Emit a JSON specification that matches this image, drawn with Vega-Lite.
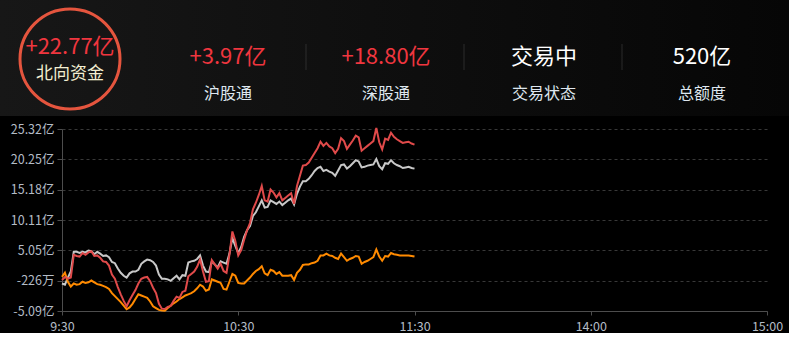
{
  "$schema": "https://vega.github.io/schema/vega-lite/v6.json",
  "background": "#000000",
  "padding": 0,
  "spacing": 5,
  "resolve": {"scale": {"color": "independent", "x": "independent", "y": "independent"}},
  "config": {"font": "Noto Sans CJK SC", "view": {"stroke": null}},
  "datasets": {
    "header": [
      {"item": "北向资金", "row": "value", "text": "+22.77亿", "kind": "inflow"},
      {"item": "北向资金", "row": "label", "text": "北向资金", "kind": "title"},
      {"item": "沪股通", "row": "value", "text": "+3.97亿", "kind": "inflow"},
      {"item": "沪股通", "row": "label", "text": "沪股通", "kind": "label"},
      {"item": "深股通", "row": "value", "text": "+18.80亿", "kind": "inflow"},
      {"item": "深股通", "row": "label", "text": "深股通", "kind": "label"},
      {"item": "交易状态", "row": "value", "text": "交易中", "kind": "status"},
      {"item": "交易状态", "row": "label", "text": "交易状态", "kind": "label"},
      {"item": "总额度", "row": "value", "text": "520亿", "kind": "status"},
      {"item": "总额度", "row": "label", "text": "总额度", "kind": "label"}
    ],
    "flow": [
      {"m": 0, "沪股通": 0.6, "深股通": -0.5, "北向资金": 0.1},
      {"m": 1, "沪股通": 1.3, "深股通": -0.7, "北向资金": 0.6},
      {"m": 2, "沪股通": -0.2, "深股通": 0.5, "北向资金": 0.3},
      {"m": 3, "沪股通": -1.0, "深股通": 1.5, "北向资金": 0.5},
      {"m": 4, "沪股通": -0.5, "深股通": 4.8, "北向资金": 4.3},
      {"m": 5, "沪股通": -0.7, "深股通": 4.8, "北向资金": 4.1},
      {"m": 6, "沪股通": -0.6, "深股通": 4.6, "北向资金": 4.0},
      {"m": 7, "沪股通": -0.2, "深股通": 4.8, "北向资金": 4.6},
      {"m": 8, "沪股通": -0.4, "深股通": 4.7, "北向资金": 4.3},
      {"m": 9, "沪股通": -0.3, "深股通": 5.0, "北向资金": 4.7},
      {"m": 10, "沪股通": 0.0, "深股通": 4.9, "北向资金": 4.9},
      {"m": 11, "沪股通": -0.3, "深股通": 4.4, "北向资金": 4.1},
      {"m": 12, "沪股通": -0.6, "深股通": 4.8, "北向资金": 4.2},
      {"m": 13, "沪股通": -0.7, "深股通": 4.5, "北向资金": 3.8},
      {"m": 14, "沪股通": -0.9, "深股通": 4.1, "北向资金": 3.2},
      {"m": 15, "沪股通": -1.1, "深股通": 4.2, "北向资金": 3.1},
      {"m": 16, "沪股通": -1.4, "深股通": 3.9, "北向资金": 2.5},
      {"m": 17, "沪股通": -2.1, "深股通": 3.1, "北向资金": 1.0},
      {"m": 18, "沪股通": -2.6, "深股通": 2.9, "北向资金": 0.3},
      {"m": 19, "沪股通": -3.1, "深股通": 2.0, "北向资金": -1.1},
      {"m": 20, "沪股通": -3.6, "深股通": 1.3, "北向资金": -2.3},
      {"m": 21, "沪股通": -4.2, "深股通": 0.8, "北向资金": -3.4},
      {"m": 22, "沪股通": -4.8, "深股通": 0.5, "北向资金": -4.3},
      {"m": 23, "沪股通": -4.5, "深股通": 1.2, "北向资金": -3.3},
      {"m": 24, "沪股通": -3.9, "深股通": 1.5, "北向资金": -2.4},
      {"m": 25, "沪股通": -3.1, "深股通": 1.5, "北向资金": -1.6},
      {"m": 26, "沪股通": -2.3, "深股通": 1.8, "北向资金": -0.5},
      {"m": 27, "沪股通": -2.5, "深股通": 2.8, "北向资金": 0.3},
      {"m": 28, "沪股通": -2.7, "深股通": 3.2, "北向资金": 0.5},
      {"m": 29, "沪股通": -2.9, "深股通": 3.5, "北向资金": 0.6},
      {"m": 30, "沪股通": -3.5, "深股通": 3.4, "北向资金": -0.1},
      {"m": 31, "沪股通": -4.3, "深股通": 3.1, "北向资金": -1.2},
      {"m": 32, "沪股通": -4.6, "深股通": 2.5, "北向资金": -2.1},
      {"m": 33, "沪股通": -4.9, "深股通": 1.0, "北向资金": -3.9},
      {"m": 34, "沪股通": -5.0, "深股通": 0.3, "北向资金": -4.7},
      {"m": 35, "沪股通": -5.05, "深股通": 0.3, "北向资金": -4.75},
      {"m": 36, "沪股通": -4.6, "深股通": 0.2, "北向资金": -4.4},
      {"m": 37, "沪股通": -4.2, "深股通": -0.05, "北向资金": -4.25},
      {"m": 38, "沪股通": -3.8, "深股通": 0.4, "北向资金": -3.4},
      {"m": 39, "沪股通": -3.5, "深股通": 0.8, "北向资金": -2.7},
      {"m": 40, "沪股通": -3.1, "深股通": 0.2, "北向资金": -2.9},
      {"m": 41, "沪股通": -2.8, "深股通": 0.9, "北向资金": -1.9},
      {"m": 42, "沪股通": -2.5, "深股通": 0.8, "北向资金": -1.7},
      {"m": 43, "沪股通": -2.3, "深股通": 3.0, "北向资金": 0.7},
      {"m": 44, "沪股通": -2.1, "深股通": 3.2, "北向资金": 1.1},
      {"m": 45, "沪股通": -1.8, "深股通": 3.3, "北向资金": 1.5},
      {"m": 46, "沪股通": -1.3, "深股通": 3.6, "北向资金": 2.3},
      {"m": 47, "沪股通": -0.7, "深股通": 4.2, "北向资金": 3.5},
      {"m": 48, "沪股通": -1.0, "深股通": 2.5, "北向资金": 1.5},
      {"m": 49, "沪股通": -1.7, "深股通": 1.5, "北向资金": -0.2},
      {"m": 50, "沪股通": -1.5, "深股通": 1.4, "北向资金": -0.1},
      {"m": 51, "沪股通": 0.2, "深股通": 3.2, "北向资金": 3.4},
      {"m": 52, "沪股通": 0.0, "深股通": 2.7, "北向资金": 2.7},
      {"m": 53, "沪股通": -0.2, "深股通": 2.2, "北向资金": 2.0},
      {"m": 54, "沪股通": -0.4, "深股通": 3.2, "北向资金": 2.8},
      {"m": 55, "沪股通": -1.4, "深股通": 3.0, "北向资金": 1.6},
      {"m": 56, "沪股通": -1.5, "深股通": 2.8, "北向资金": 1.3},
      {"m": 57, "沪股通": -0.2, "深股通": 4.5, "北向资金": 4.3},
      {"m": 58, "沪股通": 1.1, "深股通": 7.1, "北向资金": 8.2},
      {"m": 59, "沪股通": 0.8, "深股通": 5.8, "北向资金": 6.6},
      {"m": 60, "沪股通": -0.4, "深股通": 4.6, "北向资金": 4.2},
      {"m": 61, "沪股通": -0.5, "深股通": 5.6, "北向资金": 5.1},
      {"m": 62, "沪股通": -0.5, "深股通": 7.3, "北向资金": 6.8},
      {"m": 63, "沪股通": 0.0, "深股通": 8.4, "北向资金": 8.4},
      {"m": 64, "沪股通": 0.5, "深股通": 9.1, "北向资金": 9.6},
      {"m": 65, "沪股通": 1.1, "深股通": 10.8, "北向资金": 11.9},
      {"m": 66, "沪股通": 1.6, "深股通": 11.4, "北向资金": 13.0},
      {"m": 67, "沪股通": 1.9, "深股通": 12.4, "北向资金": 14.3},
      {"m": 68, "沪股通": 2.4, "深股通": 13.4, "北向资金": 15.8},
      {"m": 69, "沪股通": 1.2, "深股通": 12.2, "北向资金": 13.4},
      {"m": 70, "沪股通": 0.9, "深股通": 12.3, "北向资金": 13.2},
      {"m": 71, "沪股通": 1.8, "深股通": 13.4, "北向资金": 15.2},
      {"m": 72, "沪股通": 1.6, "深股通": 13.1, "北向资金": 14.7},
      {"m": 73, "沪股通": 1.1, "深股通": 12.8, "北向资金": 13.9},
      {"m": 74, "沪股通": 1.4, "深股通": 13.2, "北向资金": 14.6},
      {"m": 75, "沪股通": 0.8, "深股通": 12.6, "北向资金": 13.4},
      {"m": 76, "沪股通": 0.8, "深股通": 13.0, "北向资金": 13.8},
      {"m": 77, "沪股通": 0.8, "深股通": 13.4, "北向资金": 14.2},
      {"m": 78, "沪股通": 0.9, "深股通": 13.7, "北向资金": 14.6},
      {"m": 79, "沪股通": 0.1, "深股通": 12.7, "北向资金": 12.8},
      {"m": 80, "沪股通": 1.3, "深股通": 14.5, "北向资金": 15.8},
      {"m": 81, "沪股通": 1.8, "深股通": 15.7, "北向资金": 17.5},
      {"m": 82, "沪股通": 2.6, "深股通": 16.6, "北向资金": 19.2},
      {"m": 83, "沪股通": 2.7, "深股通": 16.6, "北向资金": 19.3},
      {"m": 84, "沪股通": 2.7, "深股通": 17.0, "北向资金": 19.7},
      {"m": 85, "沪股通": 2.9, "深股通": 17.6, "北向资金": 20.5},
      {"m": 86, "沪股通": 3.0, "深股通": 18.3, "北向资金": 21.3},
      {"m": 87, "沪股通": 3.3, "深股通": 18.8, "北向资金": 22.1},
      {"m": 88, "沪股通": 4.2, "深股通": 19.0, "北向资金": 23.2},
      {"m": 89, "沪股通": 4.2, "深股通": 18.3, "北向资金": 22.5},
      {"m": 90, "沪股通": 4.5, "深股通": 18.5, "北向资金": 23.0},
      {"m": 91, "沪股通": 4.2, "深股通": 18.2, "北向资金": 22.4},
      {"m": 92, "沪股通": 4.1, "深股通": 18.0, "北向资金": 22.1},
      {"m": 93, "沪股通": 3.8, "深股通": 17.5, "北向资金": 21.3},
      {"m": 94, "沪股通": 3.6, "深股通": 18.4, "北向资金": 22.0},
      {"m": 95, "沪股通": 4.5, "深股通": 19.3, "北向资金": 23.8},
      {"m": 96, "沪股通": 3.9, "深股通": 19.4, "北向资金": 23.3},
      {"m": 97, "沪股通": 3.3, "深股通": 18.7, "北向资金": 22.0},
      {"m": 98, "沪股通": 3.6, "深股通": 19.1, "北向资金": 22.7},
      {"m": 99, "沪股通": 3.8, "深股通": 19.6, "北向资金": 23.4},
      {"m": 100, "沪股通": 4.1, "深股通": 20.1, "北向资金": 24.2},
      {"m": 101, "沪股通": 4.0, "深股通": 19.9, "北向资金": 23.9},
      {"m": 102, "沪股通": 2.8, "深股通": 18.9, "北向资金": 21.7},
      {"m": 103, "沪股通": 3.1, "深股通": 19.0, "北向资金": 22.1},
      {"m": 104, "沪股通": 3.3, "深股通": 19.2, "北向资金": 22.5},
      {"m": 105, "沪股通": 3.6, "深股通": 19.3, "北向资金": 22.9},
      {"m": 106, "沪股通": 3.9, "深股通": 19.4, "北向资金": 23.3},
      {"m": 107, "沪股通": 5.2, "深股通": 20.3, "北向资金": 25.5},
      {"m": 108, "沪股通": 4.0, "深股通": 19.1, "北向资金": 23.1},
      {"m": 109, "沪股通": 3.3, "深股通": 18.6, "北向资金": 21.9},
      {"m": 110, "沪股通": 4.1, "深股通": 19.6, "北向资金": 23.7},
      {"m": 111, "沪股通": 4.0, "深股通": 19.5, "北向资金": 23.5},
      {"m": 112, "沪股通": 4.6, "深股通": 20.1, "北向资金": 24.7},
      {"m": 113, "沪股通": 4.4, "深股通": 19.6, "北向资金": 24.0},
      {"m": 114, "沪股通": 4.3, "深股通": 19.3, "北向资金": 23.6},
      {"m": 115, "沪股通": 4.2, "深股通": 19.1, "北向资金": 23.3},
      {"m": 116, "沪股通": 4.2, "深股通": 18.8, "北向资金": 23.0},
      {"m": 117, "沪股通": 4.2, "深股通": 18.9, "北向资金": 23.1},
      {"m": 118, "沪股通": 4.2, "深股通": 19.0, "北向资金": 23.2},
      {"m": 119, "沪股通": 4.1, "深股通": 18.8, "北向资金": 22.9},
      {"m": 120, "沪股通": 4.0, "深股通": 18.7, "北向资金": 22.7}
    ]
  },
  "vconcat": [
    {
      "width": 727,
      "height": 118,
      "data": {"name": "header"},
      "encoding": {
        "x": {"field": "item", "type": "nominal", "sort": ["北向资金", "沪股通", "深股通", "交易状态", "总额度"], "scale": {"type": "point", "range": [8, 640], "padding": 0}, "axis": null},
        "y": {"field": "row", "type": "nominal", "sort": ["value", "label"], "scale": {"type": "point", "range": [57, 94], "padding": 0}, "axis": null}
      },
      "layer": [
        {
          "mark": {"type": "rect", "fill": {"gradient": "linear", "x1": 0, "y1": 0, "x2": 1, "y2": 0, "stops": [{"offset": 0, "color": "#171717"}, {"offset": 1, "color": "#060606"}]}},
          "encoding": {"x": {"value": -62}, "x2": {"value": 727}, "y": {"value": 0}, "y2": {"value": 116}}
        },
        {
          "transform": [{"filter": "datum.item == '北向资金' && datum.row == 'value'"}],
          "mark": {"type": "point", "shape": "circle", "filled": false, "size": 10000, "stroke": "#e5553e", "strokeWidth": 3, "opacity": 1, "yOffset": 2}
        },
        {
          "transform": [{"filter": "datum.row == 'value' && (datum.item == '沪股通' || datum.item == '深股通' || datum.item == '交易状态')"}],
          "mark": {"type": "tick", "orient": "vertical", "size": 26, "thickness": 1, "color": "#3a3a3a", "xOffset": 78}
        },
        {
          "transform": [{"filter": "datum.row == 'value' && datum.item != '北向资金'"}],
          "mark": {"type": "text", "fontSize": 22, "baseline": "middle", "align": "center"},
          "encoding": {"text": {"field": "text"}, "color": {"field": "kind", "type": "nominal", "scale": {"domain": ["inflow", "status", "title", "label"], "range": ["#f0363f", "#ffffff", "#f3efd2", "#dfe7ef"]}, "legend": null}}
        },
        {
          "transform": [{"filter": "datum.row == 'label' && datum.item != '北向资金'"}],
          "mark": {"type": "text", "fontSize": 16, "baseline": "middle", "align": "center"},
          "encoding": {"text": {"field": "text"}, "color": {"field": "kind", "type": "nominal", "scale": {"domain": ["inflow", "status", "title", "label"], "range": ["#f0363f", "#ffffff", "#f3efd2", "#dfe7ef"]}, "legend": null}}
        },
        {
          "transform": [{"filter": "datum.row == 'value' && datum.item == '北向资金'"}],
          "mark": {"type": "text", "fontSize": 22, "baseline": "middle", "align": "center", "yOffset": -10},
          "encoding": {"text": {"field": "text"}, "color": {"field": "kind", "type": "nominal", "scale": {"domain": ["inflow", "status", "title", "label"], "range": ["#f0363f", "#ffffff", "#f3efd2", "#dfe7ef"]}, "legend": null}}
        },
        {
          "transform": [{"filter": "datum.row == 'label' && datum.item == '北向资金'"}],
          "mark": {"type": "text", "fontSize": 17, "baseline": "middle", "align": "center", "yOffset": -20},
          "encoding": {"text": {"field": "text"}, "color": {"field": "kind", "type": "nominal", "scale": {"domain": ["inflow", "status", "title", "label"], "range": ["#f0363f", "#ffffff", "#f3efd2", "#dfe7ef"]}, "legend": null}}
        }
      ]
    },
    {
      "width": 705,
      "height": 182,
      "data": {"name": "flow"},
      "transform": [{"fold": ["深股通", "沪股通", "北向资金"], "as": ["series", "amount"]}],
      "mark": {"type": "line", "strokeWidth": 2, "interpolate": "linear"},
      "encoding": {
        "x": {
          "field": "m", "type": "quantitative",
          "scale": {"domain": [0, 240], "nice": false, "zero": false},
          "axis": {"values": [0, 60, 120, 180, 240], "labelExpr": "datum.value == 0 ? '9:30' : datum.value == 60 ? '10:30' : datum.value == 120 ? '11:30' : datum.value == 180 ? '14:00' : '15:00'", "grid": false, "domainColor": "#4d4d4d", "tickColor": "#4d4d4d", "tickSize": 4, "labelColor": "#b4bcc6", "labelFontSize": 12.5, "labelPadding": 5, "labelFlush": false, "labelOverlap": false, "title": null}
        },
        "y": {
          "field": "amount", "type": "quantitative",
          "scale": {"domain": [-5.09, 25.32], "nice": false, "zero": false},
          "axis": {"values": [-5.09, -0.0226, 5.05, 10.11, 15.18, 20.25, 25.32], "labelExpr": "datum.value < -1 ? '-5.09亿' : datum.value < 0 ? '-226万' : format(datum.value, '.2f') + '亿'", "grid": true, "gridColor": "#383838", "gridDash": [3, 3], "domainColor": "#4d4d4d", "tickColor": "#4d4d4d", "tickSize": 5, "labelPadding": 3, "labelColor": "#b4bcc6", "labelFontSize": 12.5, "labelFlush": false, "labelOverlap": false, "title": null, "minExtent": 62, "maxExtent": 62}
        },
        "color": {"field": "series", "type": "nominal", "scale": {"domain": ["北向资金", "深股通", "沪股通"], "range": ["#e04a4a", "#c8c8c8", "#ff8a00"]}, "legend": null}
      }
    }
  ]
}
